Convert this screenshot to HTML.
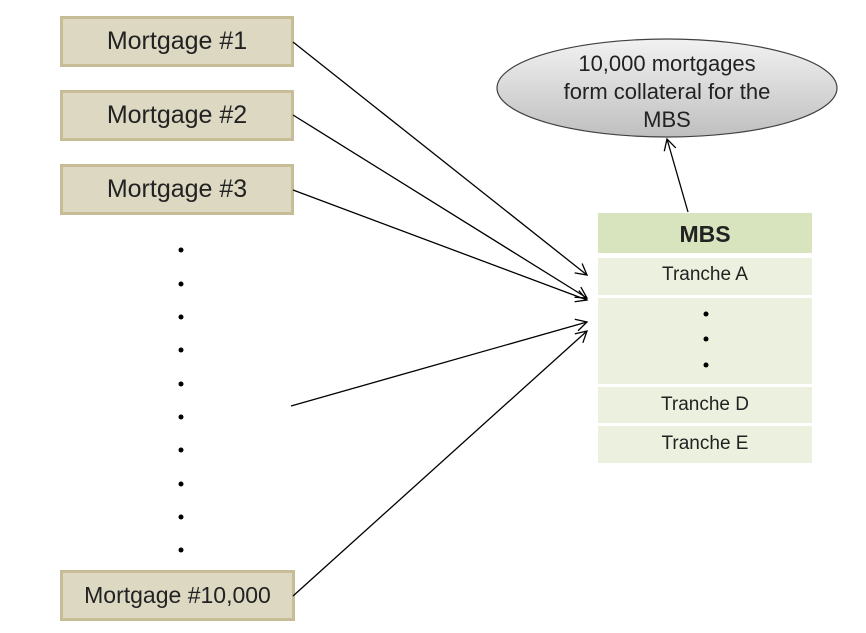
<!DOCTYPE html>
<html><head><style>
body{margin:0;width:866px;height:633px;background:#fff;overflow:hidden;font-family:"Liberation Sans",sans-serif}
.m{position:absolute;left:60px;width:228px;height:45px;background:#ddd8c2;border:3px solid #c6bd97;box-sizing:content-box;font-size:25px;line-height:45px;text-align:center;color:#222;white-space:nowrap}
.t{position:absolute;left:598px;width:214px;background:#ebf1de;text-align:center;font-size:19px;color:#222}
</style></head><body>
<div class="m" style="top:16px">Mortgage #1</div>
<div class="m" style="top:90px">Mortgage #2</div>
<div class="m" style="top:164px">Mortgage #3</div>
<div class="m" style="top:570px;width:229px;font-size:23px">Mortgage #10,000</div>
<div class="t" style="top:213px;height:40px;line-height:42px;background:#d7e4bd;font-weight:bold;font-size:23px">MBS</div>
<div class="t" style="top:258px;height:37px;line-height:34px">Tranche A</div>
<div class="t" style="top:298px;height:86px"></div>
<div class="t" style="top:387px;height:36px;line-height:36px">Tranche D</div>
<div class="t" style="top:426px;height:37px;line-height:35px">Tranche E</div>
<svg width="866" height="633" style="position:absolute;left:0;top:0">
<defs><linearGradient id="g" x1="0" y1="0" x2="0" y2="1"><stop offset="0" stop-color="#f2f2f2"/><stop offset="1" stop-color="#bfbfbf"/></linearGradient>
<marker id="a" markerWidth="14" markerHeight="14" refX="12" refY="7" orient="auto" markerUnits="userSpaceOnUse"><path d="M1,1 L12,7 L1,13" fill="none" stroke="#000" stroke-width="1.3"/></marker></defs>
<ellipse cx="667" cy="88" rx="170" ry="49" fill="url(#g)" stroke="#404040" stroke-width="1.2"/>
<text x="667" y="71" text-anchor="middle" font-size="22" fill="#222" font-family="Liberation Sans">10,000 mortgages</text>
<text x="667" y="99" text-anchor="middle" font-size="22" fill="#222" font-family="Liberation Sans">form collateral for the</text>
<text x="667" y="127" text-anchor="middle" font-size="22" fill="#222" font-family="Liberation Sans">MBS</text>
<g stroke="#000" stroke-width="1.3" marker-end="url(#a)">
<line x1="293" y1="42" x2="587" y2="275"/>
<line x1="293" y1="115" x2="587" y2="298"/>
<line x1="293" y1="190" x2="587" y2="300"/>
<line x1="291" y1="406" x2="587" y2="322"/>
<line x1="293" y1="596" x2="587" y2="331"/>
<line x1="688" y1="212" x2="667" y2="139"/>
</g>
<g fill="#000">
<circle cx="181" cy="250" r="2.5"/><circle cx="181" cy="284" r="2.5"/><circle cx="181" cy="317" r="2.5"/><circle cx="181" cy="350" r="2.5"/><circle cx="181" cy="384" r="2.5"/><circle cx="181" cy="417" r="2.5"/><circle cx="181" cy="450" r="2.5"/><circle cx="181" cy="484" r="2.5"/><circle cx="181" cy="517" r="2.5"/><circle cx="181" cy="550" r="2.5"/>
<circle cx="706" cy="314" r="2.5"/><circle cx="706" cy="339" r="2.5"/><circle cx="706" cy="365" r="2.5"/>
</g>
</svg>
</body></html>
